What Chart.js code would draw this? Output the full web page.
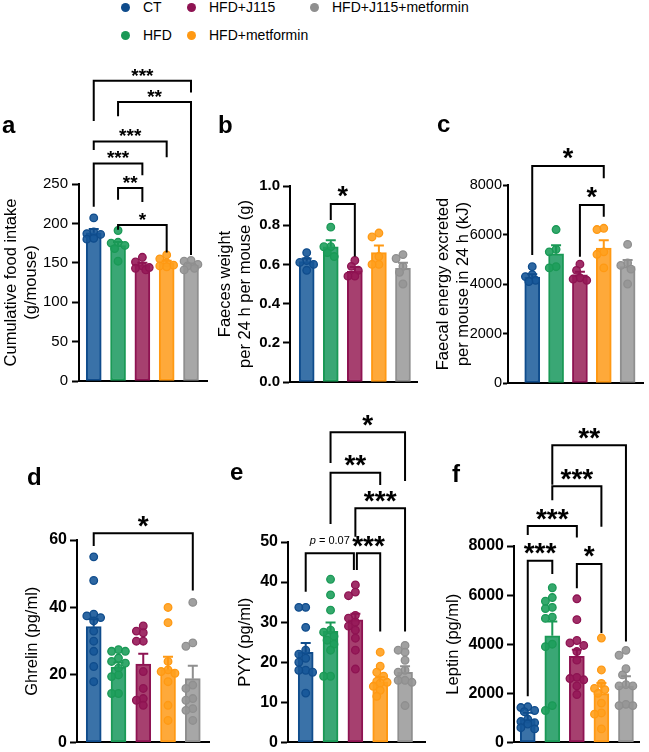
<!DOCTYPE html>
<html>
<head>
<meta charset="utf-8">
<script src="https://cdn.jsdelivr.net/npm/chart.js@4.4.1/dist/chart.umd.min.js"></script>
<style>
html, body { margin: 0; padding: 0; background: #fff; overflow: hidden; }
body { width: 649px; height: 752px; position: relative; font-family: "Liberation Sans", Arial, sans-serif; color: #000; }
canvas { position: absolute; }
.letter { position: absolute; font-weight: bold; font-size: 24px; line-height: 24px; }
.leg { position: absolute; font-size: 14px; line-height: 16px; white-space: nowrap; }
.dot { position: absolute; width: 9px; height: 9px; border-radius: 50%; }
</style>
</head>
<body>
<script>
// groups and colours
const groups = ['CT', 'HFD', 'HFD+J115', 'HFD+metformin', 'HFD+J115+metformin'];
const darkColors = ['#0f4c8c', '#1a9956', '#8e1352', '#ff9913', '#8f8f8f'];
const fillColors = ['#3a72a8', '#3aa775', '#a6406f', '#fea93a', '#a7a7a7'];
const pointFills = ['rgba(22,86,152,0.9)', 'rgba(30,158,92,0.9)', 'rgba(150,24,88,0.9)', 'rgba(255,160,30,0.9)', 'rgba(150,150,150,0.9)'];

// a - cumulative food intake
const foodMean = [188, 172, 147, 150, 147];
const foodSem = [5, 4.5, 3, 2.5, 2];
const foodPoints = [
    [207, 189, 186, 187, 180, 181],
    [191, 176, 175, 172, 168, 152],
    [157, 151, 146, 143, 141, 144],
    [160, 155, 150, 147, 146, 145],
    [153, 152, 148, 146, 143, 141]
];
const foodBrackets = [
    { from: 0, to: 4, top: 381, left: 330, right: 366, label: '***' },
    { from: 1, to: 4, top: 354, left: 336, right: 160, label: '**' },
    { from: 0, to: 3, top: 304, left: 293, right: 284, label: '***' },
    { from: 0, to: 2, top: 276, left: 221, right: 261, label: '***' },
    { from: 1, to: 2, top: 245, left: 230, right: 227, label: '**' },
    { from: 1, to: 3, top: 198, left: 192, right: 163, label: '*' }
];

// b - faeces weight
const faecesMean = [0.615, 0.69, 0.565, 0.66, 0.58];
const faecesSem = [0.015, 0.033, 0.022, 0.036, 0.028];
const faecesPoints = [
    [0.66, 0.62, 0.61, 0.60, 0.57],
    [0.79, 0.69, 0.69, 0.66, 0.64],
    [0.62, 0.59, 0.57, 0.54, 0.54],
    [0.76, 0.74, 0.64, 0.60, 0.60],
    [0.65, 0.63, 0.59, 0.56, 0.50]
];
const faecesBrackets = [
    { from: 1, to: 2, top: 0.908, left: 0.827, right: 0.64, label: '*' }
];

// c - faecal energy
const energyMean = [4280, 5220, 4370, 5450, 4700];
const energySem = [110, 350, 120, 320, 270];
const energyPoints = [
    [4700, 4380, 4300, 4150, 4100],
    [6200, 5400, 5300, 4700, 4650],
    [4800, 4550, 4250, 4200, 4150],
    [6250, 6200, 5300, 5200, 4650],
    [5600, 4850, 4750, 4600, 4000]
];
const energyBrackets = [
    { from: 0, to: 3, top: 8767, left: 5171, right: 8270, label: '*' },
    { from: 2, to: 3, top: 7191, left: 5103, right: 6718, label: '*' }
];

// d - ghrelin
const ghrelinMean = [34.3, 22.3, 23.2, 21.6, 18.9];
const ghrelinSem = [2.2, 1.4, 3.1, 3.8, 3.8];
const ghrelinPoints = [
    [55, 48, 38, 37.5, 37, 36, 33, 30, 27, 22.5, 18],
    [27.5, 27, 27, 25, 24, 23.5, 22, 20, 19.5, 14.5, 14.5],
    [34.5, 33, 32.5, 30, 30, 21, 16, 13, 12.5, 11],
    [40, 35.5, 24, 21.5, 21, 20.5, 18, 11, 6.5],
    [41.5, 29.5, 28.5, 17, 16, 13, 12.5, 10, 9.5, 6.5]
];
const ghrelinBrackets = [
    { from: 0, to: 4, top: 62, left: 58.2, right: 45, label: '*' }
];

// e - PYY
const pyyMean = [22.5, 27.7, 30.6, 15.1, 17.5];
const pyySem = [2.3, 2.2, 1.5, 1.2, 1.5];
const pyyPoints = [
    [33.7, 33.7, 28.7, 23, 22, 21, 20, 18, 18, 17.5, 12.3],
    [40.7, 36.8, 33, 28, 27.5, 26.5, 25.5, 24.5, 23, 16.5, 16.5],
    [39.3, 37.5, 36.6, 31.7, 31, 30, 29, 28, 26, 23, 18.3],
    [22.5, 19, 17.5, 16.5, 15.2, 15, 14.8, 14, 13, 11.5],
    [24.2, 23, 22.5, 20.5, 18, 17.5, 15.5, 15.5, 15, 9.2]
];
const pyyBrackets = [
    { from: 1, to: 4, top: 77.4, left: 69.7, right: 65.2, label: '*' },
    { from: 1, to: 3, top: 67.3, left: 54.5, right: 64.2, label: '**' },
    { from: 2, to: 4, top: 58.4, left: 51.3, right: 27.7, label: '***' },
    { from: 0, to: 2, top: 47.2, left: 37.6, right: 43, label: 'p = 0.07', nudgeTo: -0.06 },
    { from: 2, to: 3, top: 47.2, left: 43, right: 27.7, label: '***', nudgeFrom: 0.06 }
];

// f - leptin
const leptinMean = [935, 4345, 3505, 1990, 2290];
const leptinSem = [270, 580, 270, 430, 400];
const leptinPoints = [
    [1450, 1420, 1300, 1250, 950, 850, 800, 750, 600, 550],
    [6300, 5900, 5750, 5500, 5450, 5100, 5050, 4000, 3900, 1500, 1300],
    [5850, 5000, 4150, 4050, 3950, 3700, 3350, 2650, 2600, 2550, 2300, 1950],
    [4250, 2950, 2400, 2200, 2150, 2000, 1600, 1200, 1150, 550],
    [3750, 3550, 3000, 2750, 2350, 2300, 2300, 1550, 1500, 1500]
];
const leptinBrackets = [
    { from: 1, to: 4, top: 12099, left: 10500, right: 4113, label: '**' },
    { from: 1, to: 3, top: 10434, left: 9866, right: 8782, label: '***' },
    { from: 0, to: 2, top: 8810, left: 8445, right: 8351, label: '***' },
    { from: 0, to: 1, top: 7401, left: 1880, right: 6861, label: '***' },
    { from: 2, to: 3, top: 7267, left: 6281, right: 4454, label: '*' }
];

const FONT = '"Liberation Sans", Arial, sans-serif';

// layout of the six panels (pixels on the page)
const panels = [
    { letter: 'a', letterPos: [2, 113], mean: foodMean, sem: foodSem, points: foodPoints, brackets: foodBrackets,
      yMax: 250, yStep: 50, dec: 0, bold: false, tickSize: 15, tickLen: 7, tickPad: 4, starSize: 19,
      title: ['Cumulative food intake', '(g/mouse)'],
      left: 1, top: 50, plot: [79, 210, 184, 382], firstBar: 94, barStep: 24.75 },
    { letter: 'b', letterPos: [218, 113], mean: faecesMean, sem: faecesSem, points: faecesPoints, brackets: faecesBrackets,
      yMax: 1, yStep: 0.2, dec: 1, bold: true, tickSize: 15, tickLen: 7, tickPad: 3, starSize: 27,
      title: ['Faeces weight', 'per 24 h per mouse (g)'],
      left: 215, top: 50, plot: [290, 420, 186, 382], firstBar: 307, barStep: 24.5 },
    { letter: 'c', letterPos: [437, 112], mean: energyMean, sem: energySem, points: energyPoints, brackets: energyBrackets,
      yMax: 8000, yStep: 2000, dec: 0, bold: false, tickSize: 14.5, tickLen: 5, tickPad: 1, starSize: 27,
      title: ['Faecal energy excreted', 'per mouse in 24 h (kJ)'],
      left: 433, top: 50, plot: [508, 648, 185, 383], firstBar: 533, barStep: 24.6 },
    { letter: 'd', letterPos: [27, 465], mean: ghrelinMean, sem: ghrelinSem, points: ghrelinPoints, brackets: ghrelinBrackets,
      yMax: 60, yStep: 20, dec: 0, bold: true, tickSize: 16, tickLen: 7, tickPad: 3, starSize: 28,
      title: ['Ghrelin (pg/ml)'],
      left: 22, top: 400, plot: [77, 212, 540, 743], firstBar: 94, barStep: 25.2 },
    { letter: 'e', letterPos: [230, 460], mean: pyyMean, sem: pyySem, points: pyyPoints, brackets: pyyBrackets,
      yMax: 50, yStep: 10, dec: 0, bold: true, tickSize: 16, tickLen: 7, tickPad: 3, starSize: 28,
      title: ['PYY (pg/ml)'],
      left: 235, top: 400, plot: [288, 428, 542, 743], firstBar: 306, barStep: 25.25 },
    { letter: 'f', letterPos: [452, 462], mean: leptinMean, sem: leptinSem, points: leptinPoints, brackets: leptinBrackets,
      yMax: 8000, yStep: 2000, dec: 0, bold: true, tickSize: 16, tickLen: 7, tickPad: 3, starSize: 28,
      title: ['Leptin (pg/ml)'],
      left: 443, top: 400, plot: [514, 642, 546, 743], firstBar: 528, barStep: 25 }
];

// simple beeswarm: horizontal offsets (in category units), points kept within about the bar width
function swarm(vals, pxX, pxY) {
    const d = 6.5;
    const cands = [0, -3.5, 3.5, -7, 7];
    const order = vals.map((v, i) => i).sort((a, b) => vals[b] - vals[a]);
    const placed = [];
    const out = new Array(vals.length).fill(0);
    order.forEach(i => {
        const y = vals[i] * pxY;
        let bestX = 0, bestD = -1;
        for (const cx of cands) {
            const md = placed.reduce((m, p) => Math.min(m, Math.hypot(p.x - cx, p.y - y)), Infinity);
            if (md >= d) { bestX = cx; bestD = Infinity; break; }
            if (md > bestD) { bestD = md; bestX = cx; }
        }
        placed.push({ x: bestX, y });
        out[i] = bestX / pxX;
    });
    return out;
}

// error bars + significance brackets
const statsPlugin = {
    id: 'stats',
    afterDatasetsDraw(chart, args, opts) {
        const ctx = chart.ctx;
        const xs = chart.scales.x, ys = chart.scales.y;
        ctx.save();
        ctx.lineWidth = 2;
        ctx.lineCap = 'butt';
        opts.mean.forEach((m, i) => {
            const x = xs.getPixelForValue(i);
            const y0 = ys.getPixelForValue(m);
            const y1 = ys.getPixelForValue(m + opts.sem[i]);
            ctx.strokeStyle = darkColors[i];
            ctx.beginPath();
            ctx.moveTo(x, y0); ctx.lineTo(x, y1);
            ctx.moveTo(x - 5, y1); ctx.lineTo(x + 5, y1);
            ctx.stroke();
        });
        ctx.strokeStyle = '#000';
        ctx.fillStyle = '#000';
        ctx.lineJoin = 'miter';
        opts.brackets.forEach(b => {
            const x1 = xs.getPixelForValue(b.from + (b.nudgeFrom || 0));
            const x2 = xs.getPixelForValue(b.to + (b.nudgeTo || 0));
            const yt = ys.getPixelForValue(b.top);
            ctx.beginPath();
            ctx.moveTo(x1, ys.getPixelForValue(b.left));
            ctx.lineTo(x1, yt);
            ctx.lineTo(x2, yt);
            ctx.lineTo(x2, ys.getPixelForValue(b.right));
            ctx.stroke();
            const cx = (x1 + x2) / 2;
            ctx.textBaseline = 'alphabetic';
            if (b.label.startsWith('p')) {
                const f1 = 'italic 11px ' + FONT, f2 = '11px ' + FONT;
                ctx.font = f1; const w1 = ctx.measureText('p').width;
                ctx.font = f2; const w2 = ctx.measureText(' = 0.07').width;
                const sx = cx - (w1 + w2) / 2;
                ctx.textAlign = 'left';
                ctx.font = f1; ctx.fillText('p', sx, yt - 9);
                ctx.font = f2; ctx.fillText(' = 0.07', sx + w1, yt - 9);
            } else {
                ctx.textAlign = 'center';
                ctx.font = 'bold ' + opts.starSize + 'px ' + FONT;
                ctx.fillText(b.label, cx, yt + 0.05 * opts.starSize);
            }
        });
        ctx.restore();
    }
};

function buildPanel(p) {
    const [pl, pr, pt, pb] = p.plot;
    const width = Math.min(649, pr + 3) - p.left;
    const height = pb + 12 - p.top;
    const canvas = document.createElement('canvas');
    canvas.width = width; canvas.height = height;
    canvas.style.left = p.left + 'px'; canvas.style.top = p.top + 'px';
    canvas.style.width = width + 'px'; canvas.style.height = height + 'px';
    document.body.appendChild(canvas);

    const xMin = -(p.firstBar - pl) / p.barStep;
    const xMax = xMin + (pr - pl) / p.barStep;
    const pxY = (pb - pt) / p.yMax;
    const axisWidth = pl - p.left;

    const datasets = p.points.map((vals, g) => {
        const offs = swarm(vals, p.barStep, pxY);
        return {
            type: 'scatter',
            data: vals.map((v, k) => ({ x: g + offs[k], y: v })),
            backgroundColor: pointFills[g],
            borderColor: darkColors[g],
            borderWidth: 1.3,
            pointRadius: 3.8,
            order: 1
        };
    });
    datasets.push({
        type: 'bar',
        data: p.mean.map((m, i) => ({ x: i, y: m })),
        backgroundColor: fillColors,
        borderColor: darkColors,
        borderWidth: 2,
        borderSkipped: false,
        barThickness: 15,
        order: 2
    });

    new Chart(canvas.getContext('2d'), {
        type: 'bar',
        data: { datasets },
        plugins: [statsPlugin],
        options: {
            responsive: false,
            animation: false,
            devicePixelRatio: 1,
            layout: { padding: { top: pt - p.top, bottom: 12, left: 0, right: p.left + width - pr } },
            plugins: {
                legend: { display: false },
                tooltip: { enabled: false },
                stats: { mean: p.mean, sem: p.sem, brackets: p.brackets, starSize: p.starSize }
            },
            scales: {
                x: {
                    type: 'linear',
                    min: xMin, max: xMax,
                    offset: false,
                    grid: { display: false },
                    ticks: { display: false },
                    border: { display: true, color: '#000', width: 2 },
                    afterFit: s => { s.height = 0; }
                },
                y: {
                    type: 'linear',
                    min: 0, max: p.yMax,
                    ticks: {
                        stepSize: p.yStep,
                        color: '#000',
                        padding: p.tickPad,
                        font: { family: FONT, size: p.tickSize, weight: p.bold ? 'bold' : 'normal' },
                        callback: v => v.toFixed(p.dec)
                    },
                    grid: { display: true, drawOnChartArea: false, drawTicks: true, tickLength: p.tickLen, tickWidth: 2, tickColor: '#000', color: '#000' },
                    border: { display: true, color: '#000', width: 2 },
                    title: {
                        display: true,
                        text: p.title,
                        color: '#000',
                        padding: 0,
                        font: { family: FONT, size: 16.5, lineHeight: 20 / 16.5 }
                    },
                    afterFit: s => { s.width = axisWidth; }
                }
            }
        }
    });

    const lt = document.createElement('div');
    lt.className = 'letter';
    lt.textContent = p.letter;
    lt.style.left = p.letterPos[0] + 'px';
    lt.style.top = p.letterPos[1] + 'px';
    document.body.appendChild(lt);
}

// legend (html)
const legendPos = [[125, 7], [125, 35], [191, 7], [191, 35], [314, 7]];
groups.forEach((g, i) => {
    const [x, y] = legendPos[i];
    const dot = document.createElement('div');
    dot.className = 'dot';
    dot.style.background = darkColors[i];
    dot.style.left = (x - 4.5) + 'px';
    dot.style.top = (y - 4.5) + 'px';
    document.body.appendChild(dot);
    const t = document.createElement('div');
    t.className = 'leg';
    t.textContent = g;
    t.style.left = (x + 18) + 'px';
    t.style.top = (y - 8) + 'px';
    document.body.appendChild(t);
});

panels.forEach(buildPanel);
</script>
</body>
</html>
